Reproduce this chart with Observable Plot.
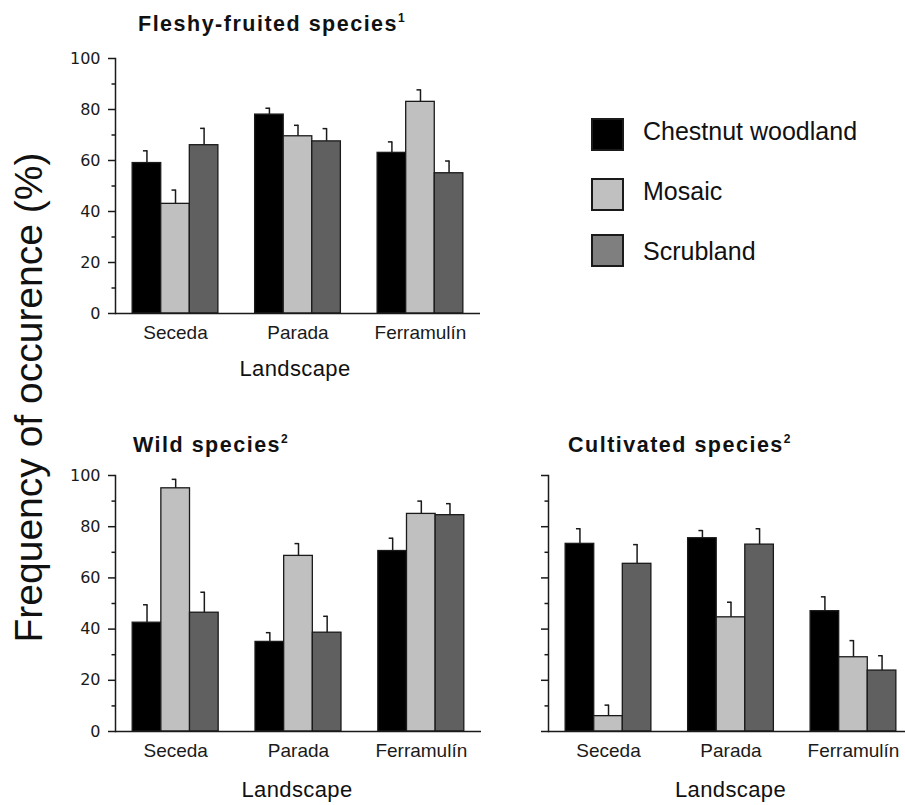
<!DOCTYPE html>
<html><head><meta charset="utf-8">
<script src="https://cdn.jsdelivr.net/npm/d3@7"></script>
<script src="https://cdn.jsdelivr.net/npm/@observablehq/plot@0.6"></script>
<style>
html,body{margin:0;padding:0;background:#fff;overflow:hidden}
#root{position:relative;width:905px;height:805px;font-family:"Liberation Sans",Arial,sans-serif;color:#111}
.abs{position:absolute;white-space:nowrap}
.title{font-weight:bold;font-size:21.5px;line-height:21.5px;letter-spacing:1.5px}
.title sup{font-size:12px;vertical-align:9px;line-height:0;letter-spacing:0}
.xlab{font-size:22px;line-height:22px;letter-spacing:0.4px;text-align:center;width:300px}
.leg{font-size:25px;line-height:25px}
.sw{position:absolute;width:29px;height:29px;border:2px solid #1a1a1a}
</style></head>
<body><div id="root"></div>
<script>
const landscapes = ["Seceda", "Parada", "Ferramulín"];
const habitats = ["Chestnut woodland", "Mosaic", "Scrubland"];
const barColors = ["#000000", "#c0c0c0", "#606060"];
const legendColors = ["#000000", "#c0c0c0", "#7f7f7f"];
const yTicks = [0, 20, 40, 60, 80, 100];
const yMinorTicks = [10, 30, 50, 70, 90];
const titles = ["Fleshy-fruited species", "Wild species", "Cultivated species"];
const titleNotes = ["1", "2", "2"];
const xTitle = "Landscape";
const yTitle = "Frequency of occurence (%)";

// values in landscape order: Seceda, Parada, Ferramulín
const fleshyChestnut = [59, 78, 63];
const fleshyMosaic = [43, 69.5, 83];
const fleshyScrub = [66, 67.5, 55];
const fleshyChestnutSE = [4.8, 2.5, 4.3];
const fleshyMosaicSE = [5.4, 4.3, 4.7];
const fleshyScrubSE = [6.6, 5, 4.8];

const wildChestnut = [42.5, 35, 70.5];
const wildMosaic = [95, 68.6, 85];
const wildScrub = [46.4, 38.6, 84.5];
const wildChestnutSE = [7, 3.6, 5];
const wildMosaicSE = [3.5, 4.8, 5];
const wildScrubSE = [8, 6.4, 4.5];

const cultChestnut = [73.3, 75.5, 47];
const cultMosaic = [6, 44.6, 29];
const cultScrub = [65.5, 73, 23.8];
const cultChestnutSE = [5.9, 3, 5.6];
const cultMosaicSE = [4.3, 5.9, 6.5];
const cultScrubSE = [7.5, 6.2, 5.8];

const root = document.getElementById("root");
const INK = "#1a1a1a";

function makePanel(cfg) {
  const rows = [];
  habitats.forEach((h, i) => landscapes.forEach((l, j) =>
    rows.push({landscape: l, habitat: h, hi: i, value: cfg.means[i][j], se: cfg.ses[i][j]})));
  const r0 = cfg.marginLeft, r1 = cfg.xRight;
  const pi = 0.3, po = 0.14;
  const step = (r1 - r0) / (landscapes.length - pi + 2 * po);
  const bw = step * (1 - pi);
  const third = bw / 3;
  const marks = [];
  habitats.forEach((h, i) => {
    const d = rows.filter(r => r.hi === i);
    marks.push(Plot.barY(d, {x: "landscape", y: "value", fill: barColors[i], stroke: INK, strokeWidth: 1.3,
      insetLeft: i * third, insetRight: (2 - i) * third}));
  });
  habitats.forEach((h, i) => {
    const d = rows.filter(r => r.hi === i);
    marks.push(Plot.ruleX(d, {x: "landscape", y1: "value", y2: r => r.value + r.se, dx: (i - 1) * third,
      stroke: INK, strokeWidth: 1.5}));
    marks.push(Plot.tickY(d, {x: "landscape", y: r => r.value + r.se,
      insetLeft: (i + 0.5) * third - 3.5, insetRight: bw - (i + 0.5) * third - 0.75,
      stroke: INK, strokeWidth: 1.5}));
  });
  marks.push(Plot.ruleY([0], {stroke: INK, strokeWidth: 1.5}));
  marks.push(Plot.frame({anchor: "left", stroke: INK, strokeWidth: 1.5}));
  marks.push(Plot.axisY({ticks: yTicks, tickSize: 7, tickPadding: 8, label: null,
    tickFormat: cfg.showYLabels ? (d => String(d)) : (() => ""),
    fontFamily: "DejaVu Sans", fontSize: 16, strokeWidth: 1.5}));
  marks.push(Plot.axisY({ticks: yMinorTicks, tickSize: 3.5, label: null, tickFormat: () => "", strokeWidth: 1.5}));
  marks.push(Plot.axisX({tickSize: 0, tickPadding: 12, label: null, fontSize: 19, fontFamily: "Liberation Sans"}));
  const svg = Plot.plot({
    width: cfg.width, height: cfg.height,
    marginLeft: cfg.marginLeft, marginRight: cfg.marginRight,
    marginTop: cfg.marginTop, marginBottom: cfg.marginBottom,
    style: {fontFamily: "Liberation Sans, Arial, sans-serif", color: INK, background: "transparent", overflow: "visible"},
    x: {type: "band", domain: landscapes, range: [r0, r1], paddingInner: pi, paddingOuter: po, align: 0.5, round: false},
    y: {domain: [0, 100]},
    marks
  });
  svg.style.position = "absolute";
  svg.style.left = cfg.left + "px";
  svg.style.top = cfg.top + "px";
  root.appendChild(svg);
}

makePanel({
  means: [fleshyChestnut, fleshyMosaic, fleshyScrub],
  ses: [fleshyChestnutSE, fleshyMosaicSE, fleshyScrubSE],
  left: 0, top: 0, width: 490, height: 350,
  marginLeft: 115, marginRight: 10, marginTop: 58, marginBottom: 37, xRight: 480, showYLabels: true
});
makePanel({
  means: [wildChestnut, wildMosaic, wildScrub],
  ses: [wildChestnutSE, wildMosaicSE, wildScrubSE],
  left: 0, top: 400, width: 490, height: 370,
  marginLeft: 115, marginRight: 9, marginTop: 75, marginBottom: 39, xRight: 481, showYLabels: true
});
makePanel({
  means: [cultChestnut, cultMosaic, cultScrub],
  ses: [cultChestnutSE, cultMosaicSE, cultScrubSE],
  left: 430, top: 400, width: 475, height: 370,
  marginLeft: 118, marginRight: 0, marginTop: 75, marginBottom: 39, xRight: 483, showYLabels: false
});

function addDiv(cls, html, left, top, extra) {
  const d = document.createElement("div");
  d.className = "abs " + cls;
  d.innerHTML = html;
  d.style.left = left + "px";
  d.style.top = top + "px";
  if (extra) Object.assign(d.style, extra);
  root.appendChild(d);
  return d;
}

// panel titles
const titlePos = [[138, 14], [133, 435], [568, 435]];
titles.forEach((t, k) => addDiv("title", t + "<sup>" + titleNotes[k] + "</sup>", titlePos[k][0], titlePos[k][1]));

// x titles
[[295, 357.5], [297, 778.5], [730.5, 778.5]].forEach(([cx, top]) => addDiv("xlab", xTitle, cx - 150, top));

// y title
addDiv("ytitle", yTitle, 28 - 300, 397 - 19.5, {
  width: "600px", textAlign: "center", fontSize: "39px", lineHeight: "39px",
  transform: "rotate(-90deg)", transformOrigin: "50% 50%"
});

// legend
const legTops = [118, 178, 234];
const legTextTops = [119, 179, 239];
habitats.forEach((h, i) => {
  const s = document.createElement("div");
  s.className = "sw";
  s.style.left = "591px";
  s.style.top = legTops[i] + "px";
  s.style.background = legendColors[i];
  root.appendChild(s);
  addDiv("leg", h, 643, legTextTops[i]);
});
</script>
</body></html>
